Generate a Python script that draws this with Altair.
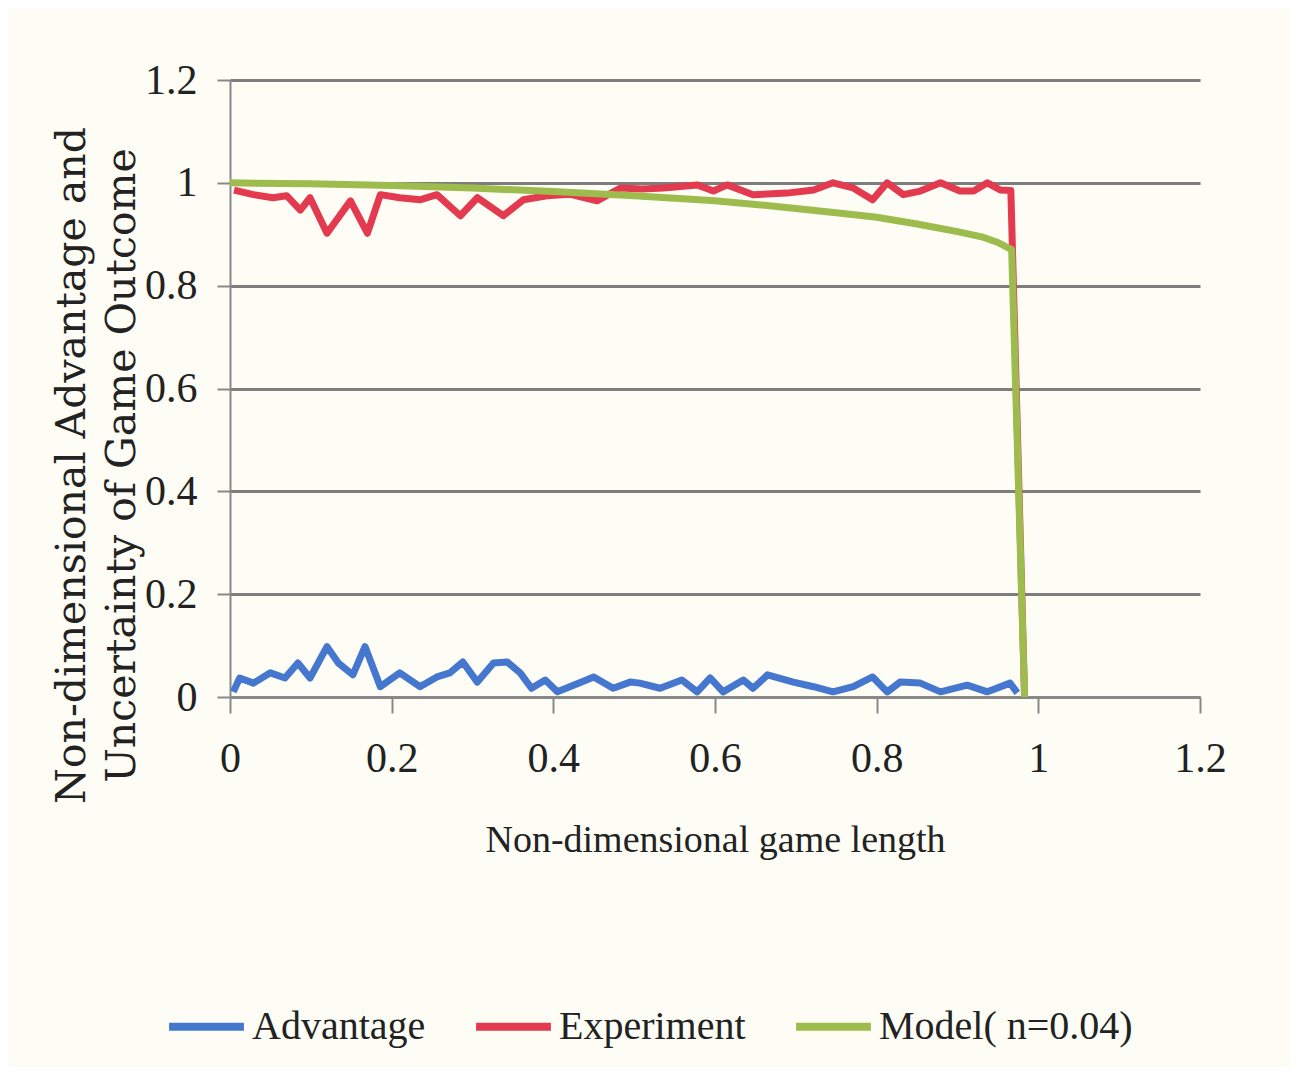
import altair as alt
import pandas as pd

series_names = ["Advantage", "Experiment", "Model( n=0.04)"]
series_colors = ["#4577cf", "#e33a4f", "#9dbc4d"]

adv_x = [0.004, 0.012, 0.029, 0.05, 0.068, 0.084, 0.099, 0.12, 0.134, 0.152, 0.167, 0.186,
         0.21, 0.235, 0.256, 0.272, 0.288, 0.306, 0.326, 0.343, 0.359, 0.373, 0.39, 0.405,
         0.425, 0.45, 0.474, 0.495, 0.507, 0.532, 0.559, 0.578, 0.594, 0.61, 0.635, 0.647,
         0.665, 0.697, 0.722, 0.746, 0.771, 0.795, 0.813, 0.829, 0.854, 0.879, 0.912, 0.937,
         0.965, 0.974]
adv_y = [0.01, 0.037, 0.027, 0.047, 0.037, 0.066, 0.037, 0.098, 0.066, 0.043, 0.098, 0.02,
         0.047, 0.02, 0.039, 0.047, 0.068, 0.029, 0.066, 0.068, 0.047, 0.017, 0.033, 0.01,
         0.023, 0.039, 0.017, 0.029, 0.027, 0.017, 0.033, 0.01, 0.037, 0.01, 0.033, 0.017,
         0.043, 0.029, 0.02, 0.01, 0.02, 0.039, 0.01, 0.029, 0.027, 0.01, 0.023, 0.01,
         0.027, 0.008]

exp_x = [0.005, 0.029, 0.053, 0.07, 0.087, 0.099, 0.12, 0.149, 0.17, 0.186, 0.21, 0.235,
         0.256, 0.285, 0.306, 0.338, 0.363, 0.392, 0.42, 0.454, 0.483, 0.51, 0.536, 0.578,
         0.598, 0.615, 0.647, 0.689, 0.722, 0.746, 0.771, 0.795, 0.813, 0.833, 0.854, 0.879,
         0.903, 0.92, 0.937, 0.953, 0.966, 0.968, 0.983]
exp_y = [0.986, 0.977, 0.971, 0.975, 0.947, 0.971, 0.902, 0.965, 0.902, 0.977, 0.971, 0.967,
         0.977, 0.936, 0.971, 0.936, 0.967, 0.975, 0.978, 0.965, 0.99, 0.988, 0.99, 0.996,
         0.984, 0.996, 0.977, 0.98, 0.986, 1.0, 0.99, 0.967, 1.0, 0.977, 0.984, 1.0,
         0.984, 0.984, 1.0, 0.986, 0.985, 0.87, 0.0]

model_x = [0.0, 0.1, 0.2, 0.3, 0.4, 0.5, 0.6, 0.65, 0.7, 0.75, 0.8, 0.85, 0.9, 0.93, 0.95,
           0.967, 0.983]
model_y = [1.0, 0.998, 0.995, 0.99, 0.983, 0.975, 0.965, 0.958, 0.95, 0.942, 0.933, 0.92,
           0.905, 0.895, 0.884, 0.87, 0.0]

x_ticks = [0, 0.2, 0.4, 0.6, 0.8, 1, 1.2]
y_ticks = [0, 0.2, 0.4, 0.6, 0.8, 1, 1.2]

frames = []
for name, xs, ys in zip(series_names, [adv_x, exp_x, model_x], [adv_y, exp_y, model_y]):
    frames.append(pd.DataFrame({"series": name, "x": xs, "y": ys, "i": range(len(xs))}))
df = pd.concat(frames, ignore_index=True)

SERIF = "Liberation Serif"

color = alt.Color(
    "series:N",
    scale=alt.Scale(domain=series_names, range=series_colors),
    legend=alt.Legend(
        title=None, orient="none", legendX=-65, legendY=905, direction="horizontal",
        symbolType="stroke", symbolStrokeWidth=8, symbolSize=5600,
        labelFont=SERIF, labelFontSize=40, labelColor="#222", labelLimit=400,
        labelOffset=4, columnPadding=34,
    ),
)

x_enc = alt.X(
    "x:Q",
    scale=alt.Scale(domain=[0, 1.2], nice=False),
    axis=alt.Axis(
        values=x_ticks, format="~g", grid=False, title="Non-dimensional game length",
        titleFont=SERIF, titleFontSize=38, titleFontWeight="normal", titleColor="#222",
        titleBaseline="middle", titleY=143, titleX=485,
        labelFont=SERIF, labelFontSize=42, labelColor="#222", labelBaseline="middle",
        labelPadding=45, tickSize=16, tickColor="#888", tickWidth=2,
        domainColor="#888", domainWidth=3, labelFlush=False,
    ),
)
y_enc = alt.Y(
    "y:Q",
    scale=alt.Scale(domain=[0, 1.2], nice=False),
    axis=alt.Axis(
        values=y_ticks, format="~g", grid=True, gridColor="#7d7d7d", gridWidth=3,
        title=["Non-dimensional Advantage and", "Uncertainty of Game Outcome"],
        titleFont="DejaVu Serif", titleFontSize=41, titleFontWeight="normal",
        titleColor="#222", titleAngle=270, titleAlign="center", titleBaseline="middle",
        titleX=-158, titleY=385, titleLineHeight=50,
        labelFont=SERIF, labelFontSize=42, labelColor="#222", labelPadding=20,
        tickSize=13, tickColor="#888", tickWidth=2, domainColor="#888", domainWidth=2,
        labelFlush=False,
    ),
)

layers = []
for name in series_names:
    layers.append(
        alt.Chart(df)
        .transform_filter(alt.datum.series == name)
        .mark_line(strokeWidth=7, strokeJoin="round")
        .encode(x=x_enc, y=y_enc, color=color, order="i:Q")
    )

chart = (
    alt.layer(*layers)
    .properties(
        width=970, height=617, background="#fdfdf5",
        autosize=alt.AutoSizeParams(type="none"),
        padding={"left": 222, "top": 72, "right": 90, "bottom": 370},
    )
    .configure_view(stroke=None)
)

chart.save("out.html", embed_options={"renderer": "svg", "actions": False})
